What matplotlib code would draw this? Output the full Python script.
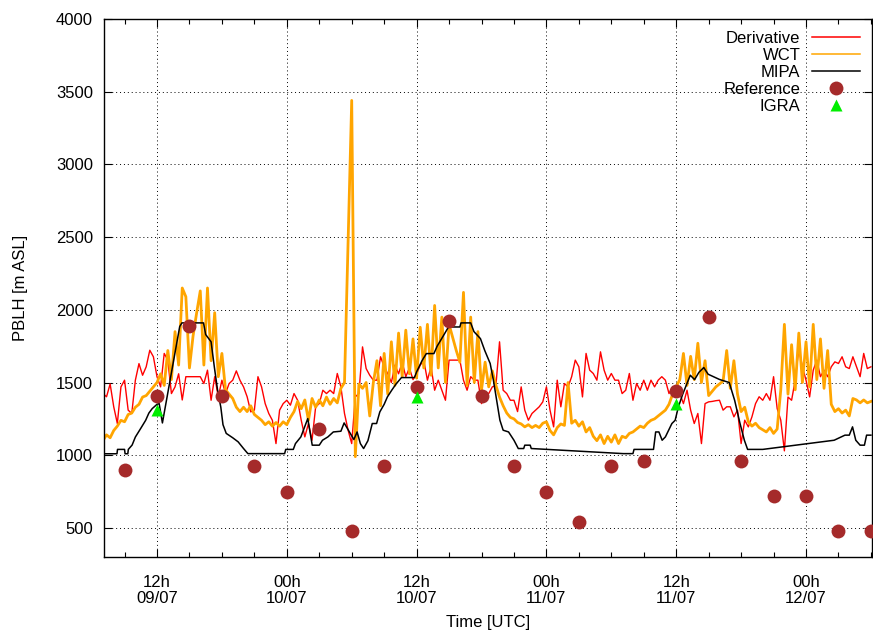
import pandas as pd
import matplotlib
matplotlib.use('Agg')
import matplotlib.pyplot as plt
import matplotlib.dates as mdates

plt.rcParams['font.family'] = ['Liberation Sans', 'DejaVu Sans']
plt.rcParams['font.size'] = 12

# ---- data (hours counted from 09/07 00h UTC) ----
day0 = pd.Timestamp('2012-07-09 00:00')

# Derivative method, one value every 20 min from 07:00 09/07
deriv = [1424, 1402, 1490, 1333, 1218, 1470, 1516, 1310, 1287, 1516, 1630, 1550,
         1608, 1722, 1677, 1540, 1470, 1700, 1654, 1424, 1470, 1560, 1380, 1540,
         1540, 1540, 1540, 1540, 1493, 1585, 1378, 1540, 1402, 1516, 1424, 1493, 1516,
         1580, 1516, 1470, 1402, 1298, 1310, 1540, 1470, 1355, 1287, 1240, 1080,
         1310, 1355, 1378, 1344, 1424, 1378, 1240, 1126, 1218, 1103, 1333, 1355,
         1447, 1424, 1447, 1424, 1562, 1470, 1287, 1172, 1080, 1402, 1424, 1745,
         1596, 1550, 1516, 1516, 1677, 1608, 1560, 1500, 1620, 1560, 1640, 1540,
         1600, 1520, 1560, 1620, 1650, 1516, 1608, 1447, 1516, 1447, 1378, 1654,
         1654, 1654, 1654, 1516, 1447, 1540, 1516, 1516, 1355, 1424, 1424, 1470,
         1480, 1780, 1447, 1424, 1378, 1378, 1300, 1470, 1310, 1241, 1287, 1310,
         1333, 1367, 1470, 1310, 1195, 1516, 1333, 1493, 1470, 1540, 1654, 1608,
         1401, 1700, 1585, 1562, 1516, 1711, 1585, 1516, 1562, 1516, 1516, 1424,
         1447, 1562, 1378, 1493, 1447, 1516, 1447, 1516, 1470, 1516, 1540, 1516,
         1424, 1470, 1424, 1424, 1355, 1447, 1310, 1218, 1287, 1080, 1355, 1367,
         1370, 1375, 1378, 1310, 1333, 1333, 1264, 1310, 1080, 1241, 1195, 1264,
         1355, 1402, 1378, 1424, 1378, 1540, 1321, 1241, 1030, 1400, 1378, 1516,
         1734, 1608, 1516, 1401, 1585, 1654, 1540, 1585, 1540, 1608, 1642, 1631,
         1677, 1608, 1596, 1677, 1608, 1540, 1700, 1596, 1608]

# WCT method, same 20 min sampling
wct = [1100, 1140, 1120, 1170, 1200, 1240, 1230, 1280, 1290, 1330, 1350, 1400,
       1410, 1440, 1470, 1500, 1560, 1480, 1720, 1520, 1850, 1620, 2150, 2090,
       1600, 1820, 1980, 2130, 1620, 2150, 1650, 1980, 1540, 1700, 1450, 1420, 1390,
       1330, 1300, 1330, 1300, 1340, 1280, 1260, 1240, 1210, 1230, 1200, 1225,
       1200, 1230, 1210, 1260, 1300, 1370, 1320, 1380, 1240, 1390, 1330, 1380,
       1340, 1400, 1350, 1390, 1360, 1460, 1500, 2460, 3440, 990, 1490, 1460,
       1500, 1270, 1500, 1650, 1340, 1700, 1420, 1780, 1480, 1840, 1540, 1860,
       1560, 1800, 1530, 1880, 1600, 1900, 1550, 2030, 1600, 1950, 1500, 1900,
       1810, 1720, 1640, 2120, 1480, 1950, 1500, 1850, 1450, 1640, 1470, 1580,
       1480, 1400, 1340, 1290, 1260, 1250, 1225, 1215, 1195, 1210, 1190, 1205,
       1190, 1220, 1230, 1170, 1140, 1190, 1215, 1205, 1500, 1220, 1240, 1200,
       1230, 1160, 1190, 1130, 1100, 1140, 1080, 1130, 1090, 1140, 1080, 1130,
       1120, 1150, 1160, 1180, 1200, 1190, 1220, 1240, 1250, 1270, 1290, 1310,
       1350, 1420, 1470, 1520, 1700, 1480, 1680, 1520, 1770, 1500, 1650, 1410,
       1440, 1470, 1490, 1510, 1720, 1460, 1650, 1420, 1300, 1330, 1230, 1200,
       1220, 1190, 1175, 1160, 1190, 1150, 1180, 1450, 1900, 1420, 1760, 1450,
       1840, 1500, 1780, 1470, 1900, 1520, 1800, 1460, 1720, 1350, 1300, 1320,
       1290, 1310, 1270, 1390, 1380, 1360, 1380, 1360, 1370]

t_grid = pd.date_range(day0 + pd.Timedelta(hours=7), periods=len(deriv), freq='20min')

# MIPA method
mipa_h = [7.0, 8.3, 8.35, 9.0, 9.05, 9.3, 9.35, 9.7, 10.0, 10.5, 10.95, 11.25,
          11.55, 12.0, 12.2, 12.5, 14.1, 14.3, 16.3, 16.5, 16.8, 17.0, 17.3, 17.6,
          17.9, 18.1, 18.4, 19.0, 19.5, 20.0, 20.4, 23.8, 23.9, 24.6, 24.8, 25.3,
          25.94, 26.35, 27.0, 27.3, 27.8, 28.3, 29.0, 29.3, 30.2, 30.5, 30.8, 31.1,
          31.5, 31.9, 32.3, 32.6, 33.0, 33.3, 33.7, 34.1, 34.6, 35.8, 36.0, 36.5,
          36.9, 37.6, 37.9, 38.5, 38.95, 40.0, 40.1, 41.0, 41.3, 41.9, 42.3, 42.8,
          43.1, 43.4, 43.7, 44.0, 44.5, 45.0, 45.4, 45.9, 46.0, 46.5, 46.6, 55.1,
          56.0, 56.1, 57.9, 58.1, 58.4, 58.7, 59.0, 59.3, 59.6, 59.9, 60.2, 60.6,
          61.3, 61.7, 62.1, 62.55, 62.95, 64.0, 64.9, 65.4, 65.9, 66.3, 66.6, 68.0,
          74.6, 75.6, 76.0, 76.3, 76.6, 77.0, 77.4, 77.6, 78.0]
mipa = [1010, 1010, 1040, 1040, 1010, 1010, 1040, 1070, 1125, 1185, 1240, 1290,
        1320, 1350, 1355, 1222, 1885, 1910, 1910, 1830, 1800, 1780, 1607, 1447,
        1330, 1210, 1150, 1120, 1092, 1046, 1011, 1011, 1040, 1040, 1080, 1126,
        1252, 1069, 1069, 1103, 1126, 1160, 1165, 1222, 1108, 1160, 1080, 1046,
        1100, 1218, 1218, 1298, 1350, 1401, 1447, 1490, 1534, 1534, 1573, 1650,
        1699, 1699, 1750, 1825, 1882, 1882, 1910, 1910, 1850, 1802, 1720, 1631,
        1516, 1378, 1241, 1172, 1160, 1103, 1046, 1046, 1069, 1069, 1046, 1011,
        1011, 1040, 1040, 1160, 1160, 1103, 1126, 1172, 1218, 1240, 1332, 1420,
        1550, 1520, 1570, 1603, 1557, 1521, 1500, 1378, 1218, 1103, 1040, 1040,
        1103, 1138, 1138, 1195, 1103, 1069, 1069, 1138, 1138]
t_mipa = day0 + pd.to_timedelta(mipa_h, unit='h')

# Reference (every 3 h) and IGRA soundings
ref_h = [9, 12, 15, 18, 21, 24, 27, 30, 33, 36, 39, 42, 45, 48, 51, 54, 57, 60,
         63, 66, 69, 72, 75, 78]
ref = [900, 1410, 1890, 1410, 925, 750, 1180, 480, 925, 1470, 1920, 1410,
       925, 750, 540, 925, 960, 1440, 1950, 960, 720, 720, 480, 480]
t_ref = day0 + pd.to_timedelta(ref_h, unit='h')

igra_h = [12, 36, 60]
igra = [1310, 1400, 1350]
t_igra = day0 + pd.to_timedelta(igra_h, unit='h')

# ---- figure ----
fig = plt.figure(figsize=(8.73, 6.3), dpi=100)
ax = fig.add_axes([104 / 873, 73 / 630, 768 / 873, 538 / 630])

ax.plot(t_grid, deriv, color='#ff0000', lw=1.0, label='Derivative')
ax.plot(t_grid, wct, color='#ffa500', lw=2.0, label='WCT')
ax.plot(t_mipa, mipa, color='black', lw=1.1, label='MIPA')
ax.plot(t_ref, ref, 'o', color='#a52a2a', ms=10, mec='none', label='Reference',
        clip_on=False, zorder=5)
ax.plot(t_igra, igra, '^', color='#00ee00', ms=8, mec='none', label='IGRA', zorder=6)

ax.set_xlim(day0 + pd.Timedelta(hours=7.1), day0 + pd.Timedelta(hours=78.1))
ax.set_ylim(300, 4000)
ax.set_yticks(range(500, 4001, 500))

ax.xaxis.set_major_locator(mdates.HourLocator(byhour=[0, 12]))
ax.xaxis.set_minor_locator(mdates.HourLocator(byhour=range(0, 24, 3)))
ax.xaxis.set_major_formatter(mdates.DateFormatter('%Hh\n%d/%m'))

ax.tick_params(which='both', direction='in', top=True, right=True, width=0.8)
ax.tick_params(which='major', length=6)
ax.tick_params(which='minor', length=3.5)
ax.tick_params(axis='y', pad=8)
ax.tick_params(axis='x', pad=13)
for lab in ax.get_xticklabels():
    lab.set_linespacing(1.1)

ax.grid(True, which='major', linestyle=(0, (1, 3)), color='black', lw=0.7)
for sp in ax.spines.values():
    sp.set_linewidth(1.0)

ax.set_xlabel('Time [UTC]', labelpad=6)
ax.set_ylabel('PBLH [m ASL]', labelpad=20)

leg = ax.legend(loc='upper right', frameon=False, markerfirst=False,
                handlelength=2.9, labelspacing=0.12, borderaxespad=0.3,
                handletextpad=0.7, numpoints=1)
for line in leg.get_lines():
    line.set_linewidth(1.1)

fig.savefig('out.png', dpi=100)
